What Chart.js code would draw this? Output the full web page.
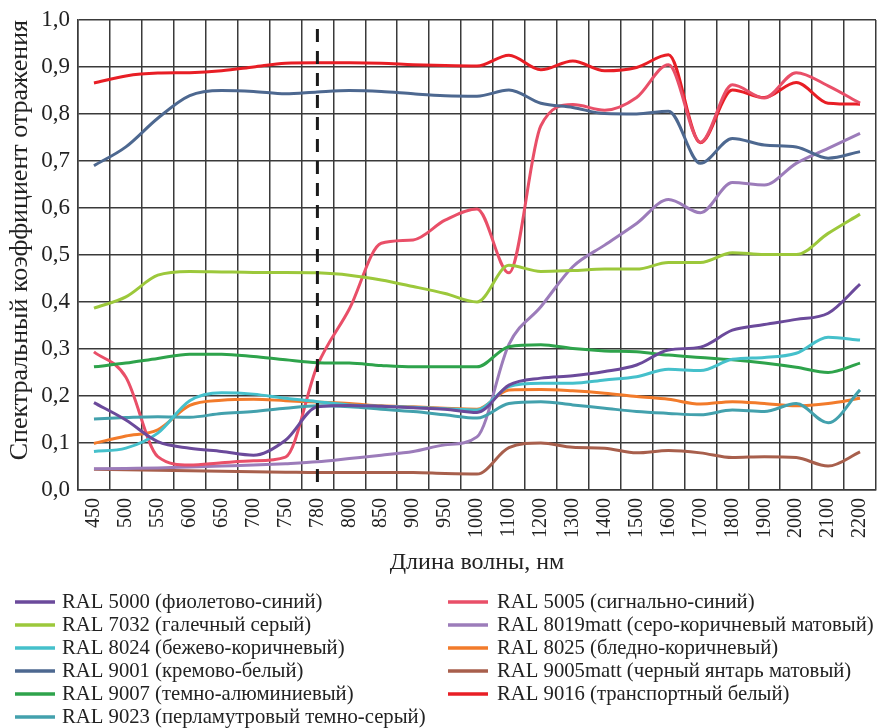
<!DOCTYPE html>
<html>
<head>
<meta charset="utf-8">
<script src="https://cdn.jsdelivr.net/npm/chart.js@4.4.1/dist/chart.umd.min.js"></script>
<style>
html,body{margin:0;padding:0;background:#fff;}
canvas{display:block;}
.pre{font-family:'Liberation Serif';position:absolute;left:-9999px;top:0;}
</style>
</head>
<body>
<span class="pre">RAL Спектральный 0123456789</span>
<canvas id="c" width="881" height="728"></canvas>
<script>
const wavelengths = ['450','500','550','600','650','700','750','780','800','850','900','950','1000','1100','1200','1300','1400','1500','1600','1700','1800','1900','2000','2100','2200'];
const yTickLabels = ['0,0','0,1','0,2','0,3','0,4','0,5','0,6','0,7','0,8','0,9','1,0'];
const markedWavelength = '780';

const ral5000 = [0.186,0.149,0.103,0.089,0.082,0.074,0.106,0.177,0.180,0.178,0.175,0.172,0.165,0.223,0.238,0.243,0.252,0.266,0.298,0.304,0.340,0.352,0.363,0.376,0.438];
const ral7032 = [0.387,0.411,0.457,0.465,0.464,0.463,0.463,0.462,0.457,0.447,0.433,0.418,0.400,0.478,0.465,0.467,0.470,0.470,0.484,0.484,0.505,0.501,0.501,0.546,0.587];
const ral8024 = [0.082,0.089,0.121,0.190,0.207,0.204,0.195,0.188,0.181,0.178,0.176,0.173,0.170,0.220,0.227,0.227,0.234,0.241,0.257,0.254,0.278,0.282,0.291,0.325,0.319];
const ral9001 = [0.690,0.730,0.791,0.839,0.850,0.848,0.843,0.847,0.850,0.848,0.843,0.839,0.838,0.851,0.823,0.814,0.801,0.800,0.806,0.695,0.748,0.734,0.730,0.706,0.720];
const ral9007 = [0.262,0.270,0.280,0.289,0.289,0.284,0.277,0.271,0.270,0.265,0.262,0.262,0.262,0.305,0.309,0.301,0.296,0.294,0.287,0.282,0.277,0.270,0.261,0.250,0.270];
const ral9023 = [0.151,0.154,0.156,0.155,0.163,0.167,0.174,0.179,0.177,0.172,0.167,0.160,0.153,0.184,0.188,0.181,0.174,0.167,0.163,0.160,0.170,0.167,0.184,0.143,0.213];
const ral5005 = [0.294,0.240,0.071,0.053,0.058,0.062,0.070,0.265,0.385,0.525,0.532,0.574,0.598,0.462,0.775,0.820,0.808,0.835,0.905,0.740,0.862,0.834,0.888,0.860,0.823];
const ral8019 = [0.045,0.046,0.047,0.049,0.051,0.053,0.056,0.060,0.067,0.074,0.082,0.096,0.113,0.310,0.390,0.475,0.521,0.567,0.618,0.590,0.654,0.649,0.695,0.727,0.759];
const ral8025 = [0.099,0.115,0.128,0.180,0.191,0.193,0.190,0.187,0.184,0.179,0.177,0.174,0.172,0.213,0.214,0.211,0.206,0.199,0.193,0.183,0.188,0.184,0.179,0.184,0.195];
const ral9005 = [0.044,0.043,0.042,0.041,0.040,0.039,0.038,0.037,0.037,0.037,0.037,0.035,0.034,0.090,0.100,0.091,0.089,0.079,0.084,0.079,0.069,0.071,0.069,0.051,0.081];
const ral9016 = [0.866,0.881,0.887,0.888,0.892,0.900,0.908,0.909,0.909,0.908,0.905,0.903,0.902,0.925,0.894,0.913,0.892,0.899,0.926,0.739,0.851,0.835,0.867,0.823,0.821];

const seriesNames = [
  'RAL 5000 (фиолетово-синий)',
  'RAL 7032 (галечный серый)',
  'RAL 8024 (бежево-коричневый)',
  'RAL 9001 (кремово-белый)',
  'RAL 9007 (темно-алюминиевый)',
  'RAL 9023 (перламутровый темно-серый)',
  'RAL 5005 (сигнально-синий)',
  'RAL 8019matt (серо-коричневый матовый)',
  'RAL 8025 (бледно-коричневый)',
  'RAL 9005matt (черный янтарь матовый)',
  'RAL 9016 (транспортный белый)'
];
const seriesValues = [ral5000, ral7032, ral8024, ral9001, ral9007, ral9023, ral5005, ral8019, ral8025, ral9005, ral9016];
const seriesColors = ['#6b4a9b','#9cc83b','#45c0cb','#4d6890','#2ea34b','#43a1ad','#e94f68','#9c7cba','#f27b2b','#a85f4c','#e81e25'];

const SERIF = "'Liberation Serif', Tinos, 'Times New Roman', 'DejaVu Serif', serif";
const GRID = '#3a3a3a';

const markerPlugin = {
  id: 'marker',
  afterDatasetsDraw(chart) {
    const {ctx, chartArea, scales} = chart;
    const x = scales.x.getPixelForValue(wavelengths.indexOf(markedWavelength));
    ctx.save();
    ctx.strokeStyle = '#1a1a1a';
    ctx.lineWidth = 3;
    ctx.setLineDash([13, 9]);
    ctx.beginPath();
    ctx.moveTo(x, chartArea.top + 9);
    ctx.lineTo(x, chartArea.bottom - 7);
    ctx.stroke();
    ctx.restore();
  }
};

const legendPlugin = {
  id: 'colLegend',
  afterDraw(chart) {
    const ctx = chart.ctx;
    const ds = chart.data.datasets;
    const perCol = 6;
    const cols = [{lx: 15, tx: 62}, {lx: 448, tx: 497}];
    ctx.save();
    ctx.font = "20.7px " + SERIF;
    ctx.textBaseline = 'middle';
    ctx.textAlign = 'left';
    ds.forEach((d, i) => {
      const c = cols[Math.floor(i / perCol)];
      const y = 602 + (i % perCol) * 23;
      ctx.strokeStyle = d.borderColor;
      ctx.lineWidth = 3.5;
      ctx.beginPath();
      ctx.moveTo(c.lx, y);
      ctx.lineTo(c.lx + 40, y);
      ctx.stroke();
      ctx.fillStyle = '#222';
      ctx.fillText(d.label, c.tx, y + 1);
    });
    ctx.restore();
  }
};

function draw() {
  new Chart(document.getElementById('c'), {
    type: 'line',
    data: {
      labels: wavelengths,
      datasets: seriesNames.map((name, i) => ({
        label: name,
        data: seriesValues[i],
        borderColor: seriesColors[i],
        backgroundColor: seriesColors[i],
        borderWidth: 3,
        pointRadius: 0,
        fill: false,
        cubicInterpolationMode: 'monotone'
      }))
    },
    options: {
      responsive: false,
      animation: false,
      layout: {padding: {left: 0, top: 20, right: 5, bottom: 153}},
      plugins: {
        legend: {display: false},
        tooltip: {enabled: false}
      },
      scales: {
        x: {
          type: 'category',
          offset: true,
          afterFit: s => { s.height = 85; s.paddingLeft = 0; s.paddingRight = 0; },
          grid: {offset: true, color: GRID, lineWidth: 1.5, drawTicks: false},
          border: {color: GRID, width: 1.5},
          ticks: {
            autoSkip: false, minRotation: 90, maxRotation: 90, padding: 8,
            color: '#222', font: {family: SERIF, size: 20}
          },
          title: {
            display: true, text: 'Длина волны, нм', color: '#222',
            font: {family: SERIF, size: 24, lineHeight: 1}, padding: {top: 0, bottom: 0}
          }
        },
        y: {
          min: 0, max: 1,
          afterFit: s => { s.width = 78; s.paddingTop = 0; s.paddingBottom = 0; },
          grid: {color: GRID, lineWidth: 1.5, drawTicks: false},
          border: {color: GRID, width: 1.5},
          ticks: {
            stepSize: 0.1, padding: 8, color: '#222',
            font: {family: SERIF, size: 23},
            callback: (v) => yTickLabels[Math.round(v * 10)]
          },
          title: {
            display: true, text: 'Спектральный коэффициент отражения', color: '#222', align: 'end',
            font: {family: SERIF, size: 26, lineHeight: 1}, padding: {top: 7, bottom: 0}
          }
        }
      }
    },
    plugins: [markerPlugin, legendPlugin]
  });
}

let started = false;
function go() { if (!started) { started = true; draw(); } }
if (document.fonts && document.fonts.load) {
  Promise.all([
    document.fonts.load("20px 'Liberation Serif'", 'RAL Спектральный 0123'),
    document.fonts.load("24px 'Liberation Serif'", 'Длина')
  ]).then(go, go);
  setTimeout(go, 1500);
} else {
  go();
}
</script>
</body>
</html>
